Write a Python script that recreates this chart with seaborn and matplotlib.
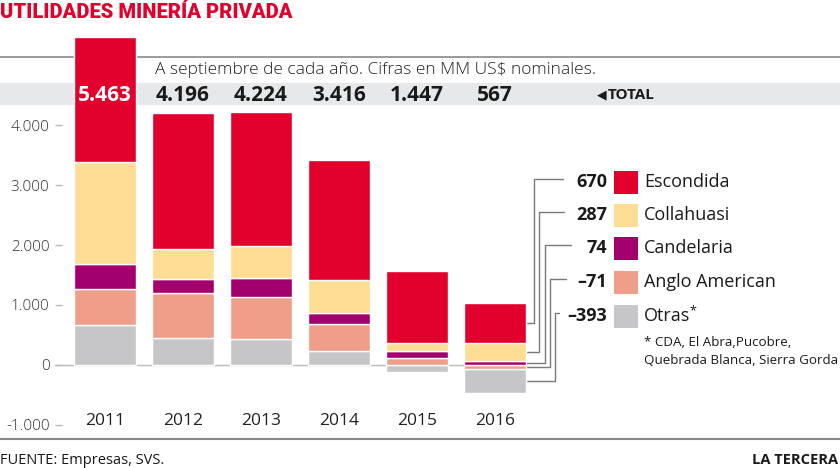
import matplotlib
matplotlib.use("Agg")
import matplotlib.pyplot as plt
import seaborn as sns
import numpy as np
import pandas as pd
from matplotlib.patches import Rectangle

# ---------------- data ----------------
years = ["2011", "2012", "2013", "2014", "2015", "2016"]
totals = [5463, 4196, 4224, 3416, 1447, 567]
otras = [667, 450, 433, 233, -117, -393]
anglo = [600, 750, 700, 450, 117, -71]
candelaria = [417, 233, 317, 183, 117, 74]
collahuasi = [1700, 500, 533, 550, 133, 287]
escondida = [2079, 2263, 2241, 2000, 1197, 670]
series_names = ["Otras*", "Anglo American", "Candelaria", "Collahuasi", "Escondida"]
legend_values = ["-393", "-71", "74", "287", "670"]
yticks = [-1000, 0, 1000, 2000, 3000, 4000]
ytick_labels = ["-1.000", "0", "1.000", "2.000", "3.000", "4.000"]
total_labels = ["5.463", "4.196", "4.224", "3.416", "1.447", "567"]

colors = {
    "Escondida": "#E2002D",
    "Collahuasi": "#FCDD93",
    "Candelaria": "#A3006D",
    "Anglo American": "#EF9E89",
    "Otras*": "#C6C6C8",
}

sns.set_theme(style="white")
plt.rcParams["font.family"] = ["Open Sans", "DejaVu Sans"]

W, H = 840, 468
fig = plt.figure(figsize=(W / 100, H / 100), dpi=100)
ax = fig.add_axes([0, 0, 1, 1])

# layout (pixel) constants
X0, DX, Y0, K = 105.0, 78.0, 365.0, 0.06


def dx(px):
    return (px - X0) / DX


def dy(py):
    return (Y0 - py) / K


def fx(px):
    return px / W


def fy(py):
    return 1 - py / H


# ---------------- stacked bars ----------------
vals = np.array([otras, anglo, candelaria, collahuasi, escondida], dtype=float)
base = np.where(vals < 0, vals, 0).sum(axis=0)
heights = np.abs(vals)
bottoms = base + np.vstack([np.zeros(len(years)), np.cumsum(heights, axis=0)[:-1]])

for i, name in enumerate(series_names):
    df = pd.DataFrame({"year": years, "h": heights[i]})
    sns.barplot(data=df, x="year", y="h", bottom=bottoms[i], color=colors[name],
                width=62 / 78, saturation=1, edgecolor="white", linewidth=1.0,
                ax=ax, zorder=3)

ax.set_xlim(dx(0), dx(W))
ax.set_ylim(dy(H), dy(0))
for s in ax.spines.values():
    s.set_visible(False)
ax.set_xlabel("")
ax.set_ylabel("")

# y axis ticks at px 62
ax.spines["left"].set_position(("axes", 62 / W))
ax.set_yticks(yticks)
ax.set_yticklabels(ytick_labels)
ax.tick_params(axis="y", left=True, length=5, width=1, color="#BBBBBB", pad=4,
               labelsize=11, labelcolor="#333333", direction="out")
for lab in ax.get_yticklabels():
    lab.set_fontweight("light")

# year labels via x axis
ax.spines["bottom"].set_position(("data", dy(413)))
ax.tick_params(axis="x", bottom=True, length=0, pad=0, labelsize=12.5, labelcolor="#222222")

ax.grid(False)

# zero line
ax.plot([dx(55), dx(468)], [0, 0], color="#BBBBBB", lw=1.0, zorder=2, clip_on=False)

# top band + line
ax.add_patch(Rectangle((dx(0), dy(105)), dx(W) - dx(0), dy(83) - dy(105),
                       facecolor="#E7E8EA", edgecolor="none", zorder=1))
ax.plot([dx(0), dx(W)], [dy(57), dy(57)], color="#8A8A8A", lw=1.2, zorder=1)

# totals
for i, t in enumerate(total_labels):
    ax.text(i, dy(95), t, ha="center", va="center", fontsize=15, fontweight="bold",
            color="white" if i == 0 else "#1A1A1A", zorder=5)
ax.text(dx(597), dy(95), "◀", ha="left", va="center", fontsize=9, color="#1A1A1A",
        family=["DejaVu Sans"], zorder=5)
ax.text(dx(608), dy(95), "TOTAL", ha="left", va="center", fontsize=11, fontweight="bold",
        color="#1A1A1A", zorder=5)

# subtitle
ax.text(dx(155), dy(70), "A septiembre de cada año. Cifras en MM US$ nominales.",
        ha="left", va="center", fontsize=12.5, color="#222222", fontweight="light", zorder=5)

# title
fig.text(fx(0), fy(12), "UTILIDADES MINERÍA PRIVADA", ha="left", va="center",
         fontsize=14.5, fontweight="black", color="#E2002D",
         family=["Liberation Sans Narrow", "Roboto", "DejaVu Sans"])

# ---------------- legend with leader lines ----------------
row_y = {"Escondida": 182, "Collahuasi": 215, "Candelaria": 248,
         "Anglo American": 282, "Otras*": 316}
vert_x = {"Escondida": 534, "Collahuasi": 539, "Candelaria": 545,
          "Anglo American": 550, "Otras*": 555}
end_x = {"Escondida": 563, "Collahuasi": 564, "Candelaria": 571,
         "Anglo American": 566, "Otras*": 559}
last = len(years) - 1
bar_right = last + (62 / 78) / 2
for i, name in enumerate(series_names):
    mid = bottoms[i, last] + heights[i, last] / 2
    ry = row_y[name]
    vx = vert_x[name]
    ax.plot([bar_right, dx(vx), dx(vx), dx(end_x[name])],
            [mid, mid, dy(ry - 3), dy(ry - 3)],
            color="#7A7A7A", lw=1.0, zorder=2, clip_on=False)
    ax.text(dx(607), dy(ry), legend_values[i].replace("-", "–"), ha="right", va="center",
            fontsize=13, fontweight="bold", color="#1A1A1A")
    ax.add_patch(Rectangle((dx(614), dy(ry + 12)), dx(638) - dx(614), dy(ry - 11) - dy(ry + 12),
                           facecolor=colors[name], edgecolor="none"))
    label = name.replace("*", "")
    ax.text(dx(644), dy(ry), label, ha="left", va="center", fontsize=13, color="#1A1A1A")
    if name == "Otras*":
        ax.text(dx(689), dy(ry - 5), "*", ha="left", va="center", fontsize=9, color="#1A1A1A")

ax.text(dx(644), dy(342), "* CDA, El Abra,Pucobre,", ha="left", va="center",
        fontsize=9.6, color="#1A1A1A")
ax.text(dx(644), dy(361), "Quebrada Blanca, Sierra Gorda", ha="left", va="center",
        fontsize=9.6, color="#1A1A1A")

# footer
ax.plot([dx(0), dx(W)], [dy(439), dy(439)], color="#8A8A8A", lw=1.5, clip_on=False)
fig.text(fx(0), fy(460), "FUENTE: Empresas, SVS.", ha="left", va="center",
         fontsize=10.5, color="#1A1A1A")
fig.text(fx(838), fy(460), "LA TERCERA", ha="right", va="center",
         fontsize=10.5, fontweight="bold", color="#1A1A1A")

fig.savefig("out.png", dpi=100)
